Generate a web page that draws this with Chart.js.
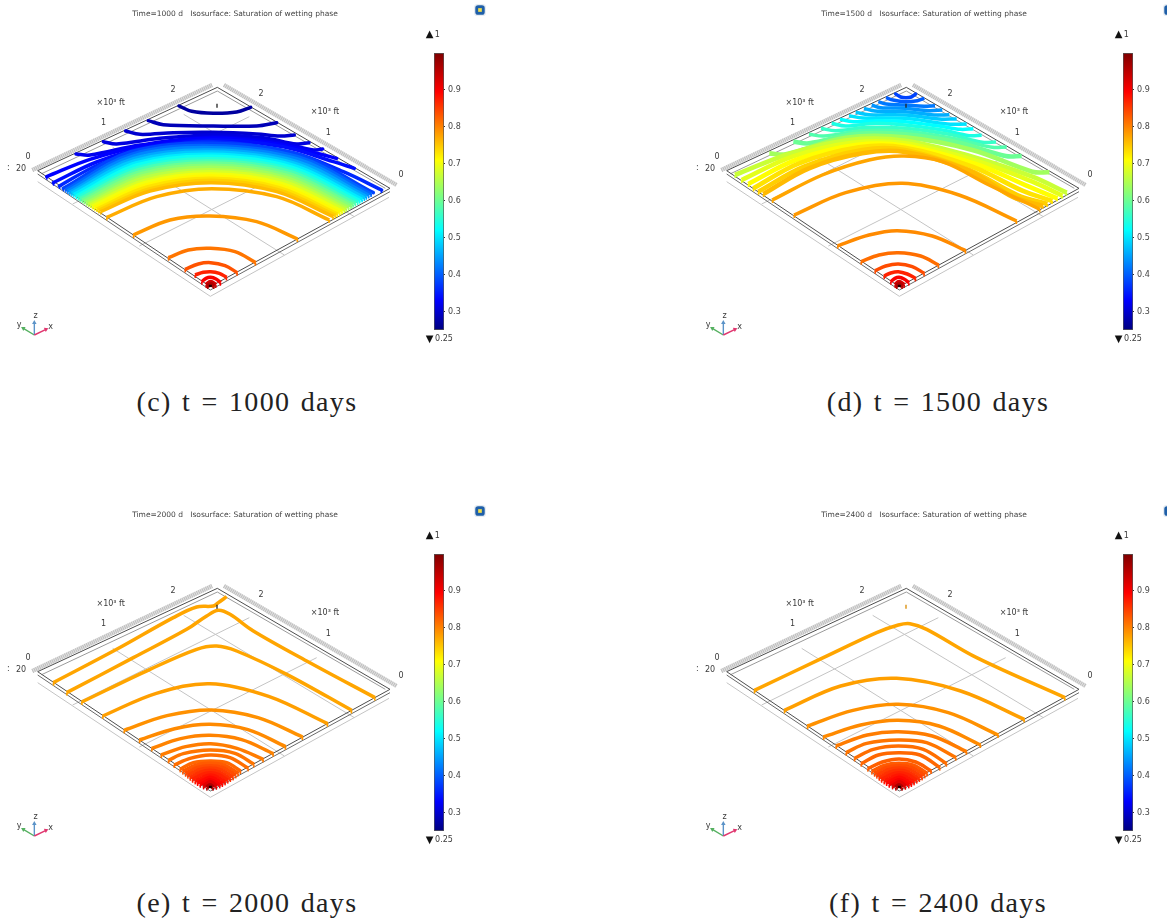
<!DOCTYPE html>
<html><head><meta charset="utf-8">
<script src="https://cdn.jsdelivr.net/npm/chart.js@4"></script>
<style>
html,body{margin:0;padding:0;background:#fff;overflow:hidden;width:1167px;height:922px}
canvas{position:absolute;display:block;filter:blur(0.3px)}
.cap{position:absolute;width:400px;text-align:center;font-family:"Liberation Serif",serif;font-size:28px;line-height:34px;color:#222;word-spacing:2px;letter-spacing:1.35px}
</style></head><body>
<script>
// Plot units are the projected picture plane of the isometric view.
const plotWidth = 1470, plotHeight = 1035;
const times = ['1000','1500','2000','2400'];
const captions = ['(c) t = 1000 days','(d) t = 1500 days','(e) t = 2000 days','(f) t = 2400 days'];
const colorbarTicks = [0.3,0.4,0.5,0.6,0.7,0.8,0.9];

const levelsC = [.27,.285,.30,.31,.32,.33,.34,.36,
 .38,.405,.43,.455,.48,.505,.53,.55,.575,.60,.62,.64,.66,.68,.70,.715,.73,.745,.76,
 .77,.785,.81,.835,.87,.90,.93,.96];
const linesC = [
[537,318,575,334,640,340,710,336,752,322],
[445,362,490,374,640,378,770,378,830,368],
[377,393,420,403,520,398,640,397,770,402,840,408,883,405],
[310,425,350,432,480,415,640,405,790,413,890,432,927,428],
[228,462,270,465,420,435,640,412,840,428,940,450,968,447],
[140,530,270,478,440,435,640,415,830,432,960,462,1010,475],
[160,548,290,486,440,442,640,420,850,440,1000,485,1063,505],
[178,558,300,492,450,447,640,425,880,458,1030,515,1145,570],
[190,565,390,456,640,430,900,465,1120,578],
[197,569,394,463,635,437,896,471,1114,582],
[203,573,397,469,635,443,892,477,1107,586],
[209,577,400,476,635,450,889,484,1100,590],
[215,580,404,482,635,456,885,490,1094,594],
[221,584,407,489,635,463,881,496,1087,598],
[228,588,410,495,635,469,877,502,1080,602],
[234,592,414,502,635,476,873,508,1074,606],
[240,596,417,508,635,483,869,514,1067,610],
[246,600,420,515,635,489,865,520,1060,614],
[252,604,424,521,635,496,861,526,1054,618],
[259,608,427,528,635,502,857,532,1047,622],
[265,612,430,534,635,509,853,538,1040,626],
[271,615,434,541,635,515,850,544,1034,630],
[277,619,437,547,635,522,846,551,1027,634],
[283,623,440,554,635,528,842,557,1020,638],
[290,627,443,560,635,535,838,563,1013,642],
[296,631,447,567,635,541,834,569,1007,646],
[302,635,450,573,635,548,830,575,1000,650],
[320,652,470,590,635,566,830,590,988,660],
[400,705,510,660,630,648,770,665,893,717],
[505,773,565,750,632,745,705,755,767,788],
[555,808,595,792,632,788,675,797,712,818],
[585,825,610,817,632,815,658,820,680,832],
[605,845,618,835,632,832,648,837,662,848],
[618,855,632,846,648,855],
[622,858,632,853,642,858]
];

const levelsD = [.38,.40,.42,.44,.46,.48,.50,.52,.54,.56,.58,.60,.64,.67,.69,.71,.73,.745,.76,.775,.785,.795,.815,.84,.87,.90,.93,.96];
const linesD = [
[620,282,635,291,651,293,667,291,680,282],
[591,293,612,300,648,305,685,302,706,295],
[568,305,592,312,648,315,705,319,738,317],
[548,315,575,323,648,325,720,332,760,330],
[525,325,558,333,648,335,735,345,781,344],
[500,337,540,344,648,345,750,357,803,357],
[480,347,522,354,648,355,775,372,833,372],
[453,358,492,365,570,362,648,365,750,378,815,388,853,386],
[428,370,470,378,560,370,648,375,760,390,840,407,878,406],
[396,385,440,392,540,382,648,385,780,403,880,427,921,426],
[360,403,405,408,520,392,648,394,790,415,910,442,953,441],
[313,425,360,430,500,402,648,403,810,428,950,468,998,468],
[241,460,290,463,470,413,648,412,850,450,1030,515,1081,517],
[138,525,300,462,480,420,648,422,850,470,1030,530,1133,578],
[158,540,310,470,490,428,648,430,860,482,1030,545,1120,587],
[178,552,320,480,500,435,648,437,860,492,1020,560,1105,595],
[193,565,330,490,510,442,648,443,850,500,1000,572,1090,603],
[208,575,345,500,520,450,648,450,840,510,985,585,1075,612],
[223,582,360,505,520,460,648,456,840,512,970,590,1062,618],
[250,600,400,525,540,480,645,468,760,485,900,555,1053,628],
[315,645,470,578,640,550,810,585,983,663],
[446,737,540,705,625,692,730,708,830,752],
[516,785,570,765,628,758,695,768,749,795],
[558,812,590,798,628,792,670,800,706,820],
[585,828,605,819,628,815,655,822,680,835],
[605,845,618,835,630,832,645,837,660,848],
[618,855,630,846,646,855],
[622,858,630,853,640,858]
];

const levelsE = [.775,.775,.775,.78,.79,.795,.80,.805,.81,.815,.82,.83,.84,.85,.86,.87,.88,.89,.90,.92,.96];
const linesE = [
[160,545,350,445,520,350,590,318,640,315,655,305,680,287],
[200,575,400,470,560,385,620,345,655,328,690,340,760,390,920,480,1125,590],
[245,603,450,505,590,445,650,435,710,450,860,520,1055,628],
[308,645,469,577,630,548,806,586,983,668],
[372,688,501,644,635,627,774,650,908,708],
[418,717,524,683,630,670,744,686,857,737],
[455,742,542,713,630,703,725,716,820,758],
[483,762,557,737,632,728,711,742,790,775],
[505,778,550,758,630,747,705,757,762,790],
[522,792,570,772,630,762,690,770,745,802],
[540,805,580,785,630,780,680,785,722,810],
[548,812,585,793,630,787,675,793,715,817],
[556,818,590,800,630,794,670,800,708,823],
[563,824,595,807,630,801,665,807,700,829],
[570,830,600,814,630,808,660,814,692,834],
[577,836,605,821,630,815,657,821,684,839],
[585,841,610,828,630,822,653,828,676,844],
[592,846,614,835,630,829,648,835,668,849],
[600,851,618,841,630,836,643,841,660,853],
[610,856,622,848,630,843,640,848,650,857],
[620,860,630,853,640,860]
];

const levelsF = [.775,.78,.79,.795,.805,.81,.815,.82,.825,.83,.84,.85,.86,.87,.88,.89,.90,.92,.96];
const linesF = [
[196,568,403,470,563,395,628,372,663,368,713,385,863,470,1128,590],
[286,628,455,555,623,532,815,570,1006,655],
[355,675,492,628,628,610,778,635,928,702],
[403,708,515,672,628,658,750,675,875,732],
[441,735,535,702,628,692,730,705,833,752],
[471,755,533,727,628,717,713,725,801,770],
[496,772,553,745,628,735,703,745,773,788],
[516,788,568,762,628,755,693,762,753,800],
[536,803,580,783,630,774,680,783,727,810],
[548,812,585,793,630,787,675,793,715,817],
[556,818,590,800,630,794,670,800,708,823],
[563,824,595,807,630,801,665,807,700,829],
[570,830,600,814,630,808,660,814,692,834],
[577,836,605,821,630,815,657,821,684,839],
[585,841,610,828,630,822,653,828,676,844],
[592,846,614,835,630,829,648,835,668,849],
[600,851,618,841,630,836,643,841,660,853],
[610,856,622,848,630,843,640,848,650,857],
[620,860,630,853,640,860]
];

// View box of the model, same for all four panels
const boxTop = [113,512,652,262,1170,565,631,860,113,512];
const boxLower = [113,522,631,870,1170,575];
const boxBack = [125,521,652,273,1156,565];
const boxFloor = [113,545,631,889,1167,592];
const gridA = [218,612,748,350];
const gridB = [418,738,950,470];
const gridC = [338,442,853,765];
const gridD = [551,343,1063,650];
const rulerLeft = [97,510,636,255];
const rulerRight = [672,255,1190,555];
const wellMark = [651,311,651,323];
const axisX = [103,1005,138,988];
const axisY = [103,1005,70,985];
const axisZ = [103,1005,103,968];
const tickLabels = [
 ['2',519,271],['×10³ ft',332,308],['1',311,369],['0',84,471],[':',25,505],['20',63,506],
 ['2',783,283],['×10³ ft',975,335],['1',985,399],['0',1203,524],
 ['y',57,975],['z',107,948],['x',152,980],
 ['1',1312,105],['0.25',1332,1018]
];
const rangeMarks = [['▲',1289,102],['▼',1289,1018]];

const jetStops = [[.25,[0,0,127]],[.33,[0,0,255]],[.52,[0,255,255]],[.71,[255,255,0]],[.895,[255,0,0]],[1,[127,0,0]]];
function jet(v){
  for(let i=1;i<jetStops.length;i++){
    if(v<=jetStops[i][0]){
      const [a,ca]=jetStops[i-1],[b,cb]=jetStops[i],t=(v-a)/(b-a);
      return 'rgb('+ca.map((c,j)=>Math.round(c+(cb[j]-c)*t)).join(',')+')';
    }
  }
  return 'rgb(127,0,0)';
}
const pts = a => { const o=[]; for(let i=0;i<a.length;i+=2) o.push({x:a[i],y:a[i+1]}); return o; };
const stroke = (a,color,width,extra) => Object.assign({type:'scatter',showLine:true,data:pts(a),borderColor:color,borderWidth:width,pointRadius:0,tension:0,fill:false},extra||{});
const arrow = (a,color,rot) => stroke(a,color,1.4,{pointStyle:'triangle',pointRadius:[0,2.6],pointRotation:rot,pointBackgroundColor:color,pointBorderWidth:0});

const labelPlugin = {
  id:'plotLabels',
  afterDraw(chart,args,opts){
    const c=chart.ctx,sx=chart.scales.x,sy=chart.scales.y;
    c.save();c.textAlign='center';c.textBaseline='middle';c.fillStyle='#3a3a3a';
    c.font='8px "DejaVu Sans"';
    opts.items.forEach(t=>c.fillText(t[0],sx.getPixelForValue(t[1]),sy.getPixelForValue(t[2])));
    c.fillStyle='#111';c.font='10px "DejaVu Sans"';
    opts.marks.forEach(t=>c.fillText(t[0],sx.getPixelForValue(t[1]),sy.getPixelForValue(t[2])));
    c.fillStyle='#444';c.font='7.5px "DejaVu Sans"';
    c.fillText('Time='+opts.time+' d   Isosurface: Saturation of wetting phase',sx.getPixelForValue(705),sy.getPixelForValue(42));
    c.restore();
  }
};

function addCanvas(w,h,l,t){
  const cv=document.createElement('canvas');cv.width=w;cv.height=h;
  cv.style.left=l+'px';cv.style.top=t+'px';cv.style.width=w+'px';cv.style.height=h+'px';
  document.body.appendChild(cv);return cv;
}

function panel(ox,oy,levels,lines,time,dotColor,massWidth){
  const ds=[];
  ds.push(stroke(rulerLeft,'#e2e2e2',4.2),stroke(rulerRight,'#e2e2e2',4.2));
  ds.push(stroke(rulerLeft,'#bdbdbd',4.2,{borderDash:[1,1]}),stroke(rulerRight,'#bdbdbd',4.2,{borderDash:[1,1]}));
  [gridA,gridB,gridC,gridD,boxFloor].forEach(g=>ds.push(stroke(g,'#c4c4c4',1)));
  ds.push(stroke(boxBack,'#9a9a9a',1),stroke(boxLower,'#6a6a6a',1),stroke(boxTop,'#4d4d4d',1));
  levels.forEach((lv,i)=>{
    const L=lines[i],n=L.length;
    // isosurface edge: short drop of the surface where it meets the front sides
    if(L[1] > 512+(L[0]-113)*.672-14) ds.push(stroke([L[0],L[1],L[0]+1,L[1]+9],jet(lv),1.5));
    if(L[n-1] > 860-(L[n-2]-631)*.547-14) ds.push(stroke([L[n-2],L[n-1],L[n-2]-1,L[n-1]+9],jet(lv),1.5));
    const w = lv>.9 ? 4.5 : (lv>.58&&lv<.765 ? massWidth : 3.5);
    ds.push(stroke(L,jet(lv),w,{tension:.35,label:'S='+lv,borderCapStyle:lv<.4?'round':'butt'}));
  });
  ds.push(stroke(wellMark,dotColor,1.3));
  ds.push(stroke([631,854,631,861],'#200000',3));
  ds.push(arrow(axisY,'#55b060',-60),arrow(axisZ,'#5b93c8',0),arrow(axisX,'#e0356e',65));
  ds.push({type:'scatter',data:[{x:1440,y:30}],pointStyle:'rectRounded',pointRadius:7,pointBackgroundColor:'#e6ecf2',pointBorderWidth:0,showLine:false});
  ds.push({type:'scatter',data:[{x:1440,y:30}],pointStyle:'rectRounded',pointRadius:5.5,pointBackgroundColor:'#1f5fa8',pointBorderWidth:0,showLine:false});
  ds.push({type:'scatter',data:[{x:1440,y:30}],pointStyle:'rect',pointRadius:2.6,pointBackgroundColor:'#f2e04a',pointBorderWidth:0,showLine:false});
  ds.forEach((d,i)=>{d.order=ds.length-i;});
  new Chart(addCanvas(490,345,ox,oy),{
    type:'scatter',
    data:{datasets:ds},
    options:{responsive:false,animation:false,devicePixelRatio:1,
      layout:{padding:0,autoPadding:false},
      scales:{x:{type:'linear',min:0,max:plotWidth,display:false},y:{type:'linear',min:0,max:plotHeight,reverse:true,display:false}},
      plugins:{legend:{display:false},tooltip:{enabled:false},plotLabels:{items:tickLabels,marks:rangeMarks,time:time}}
    },
    plugins:[labelPlugin]
  });
  new Chart(addCanvas(57,279,ox+433,oy+52),{
    type:'bar',
    data:{labels:['Saturation of wetting phase'],datasets:[{data:[[.25,1]],barPercentage:1,categoryPercentage:1,borderWidth:1,borderSkipped:false,borderColor:'#555',
      backgroundColor(ctx){
        const a=ctx.chart.chartArea; if(!a) return '#888';
        const g=ctx.chart.ctx.createLinearGradient(0,a.bottom,0,a.top);
        jetStops.forEach(s=>g.addColorStop((s[0]-.25)/.75,'rgb('+s[1].join(',')+')'));
        return g;
      }}]},
    options:{responsive:false,animation:false,devicePixelRatio:1,
      layout:{padding:{left:1,top:1,bottom:1,right:0},autoPadding:false},
      scales:{
        x:{display:false},
        y:{position:'right',min:.25,max:1,
          afterBuildTicks(s){s.ticks=colorbarTicks.map(v=>({value:v}));},
          afterFit(s){s.width=46;s.paddingTop=0;s.paddingBottom=0;},
          grid:{drawOnChartArea:false,drawTicks:true,tickLength:1,color:'#333'},
          border:{display:false},
          ticks:{padding:3,color:'#444',font:{family:'"DejaVu Sans"',size:8},callback:v=>v.toFixed(1)}
        }
      },
      plugins:{legend:{display:false},tooltip:{enabled:false}}
    }
  });
}

const offX=[0,689,0,689], offY=[0,0,501,501];
panel(offX[0],offY[0],levelsC,linesC,times[0],'#222',3.5);
panel(offX[1],offY[1],levelsD,linesD,times[1],'#222',4.6);
panel(offX[2],offY[2],levelsE,linesE,times[2],'#222',3.5);
panel(offX[3],offY[3],levelsF,linesF,times[3],'#d98a00',3.5);
const capX=[47,738,47,738], capY=[385,385,886,886];
captions.forEach((c,i)=>{const d=document.createElement('div');d.className='cap';d.textContent=c;d.style.left=capX[i]+'px';d.style.top=capY[i]+'px';document.body.appendChild(d);});
</script>
</body></html>
